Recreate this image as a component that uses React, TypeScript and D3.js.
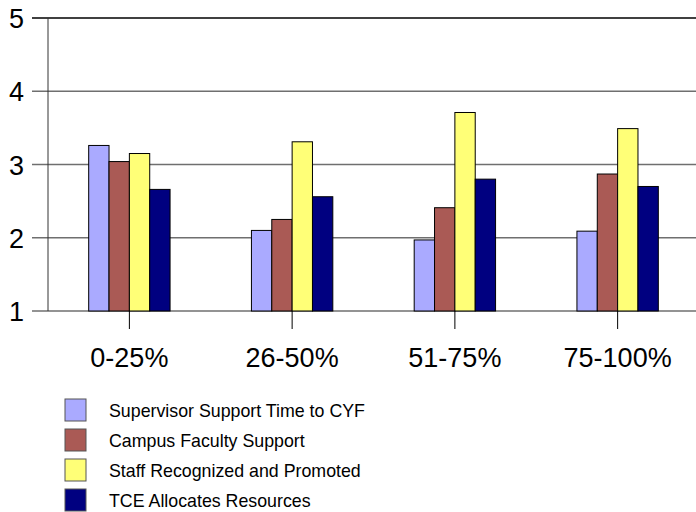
import * as d3 from "d3";

const categories = ["0-25%", "26-50%", "51-75%", "75-100%"];
const seriesNames = [
  "Supervisor Support Time to CYF",
  "Campus Faculty Support",
  "Staff Recognized and Promoted",
  "TCE Allocates Resources",
];
const supervisorSupport = [3.26, 2.1, 1.97, 2.09];
const campusFaculty = [3.04, 2.25, 2.41, 2.87];
const staffRecognized = [3.15, 3.31, 3.71, 3.49];
const tceAllocates = [2.66, 2.56, 2.8, 2.7];
const yTicks = [1, 2, 3, 4, 5];

const seriesValues = [supervisorSupport, campusFaculty, staffRecognized, tceAllocates];
const colors = ["#AAAAFF", "#AA5A55", "#FFFF77", "#000080"];

export default function App() {
  const width = 696;
  const height = 512;
  const left = 48;
  const top = 18;
  const bottom = 311;
  const plotRight = 699;

  const x = d3.scaleBand().domain(categories).range([left, plotRight]).padding(0);
  const x1 = d3
    .scaleBand()
    .domain(seriesNames)
    .range([x.bandwidth() * 0.25, x.bandwidth() * 0.75]);
  const y = d3.scaleLinear().domain([1, 5]).range([bottom, top]);

  const font = "'Liberation Sans', Arial, sans-serif";

  return (
    <svg
      width={width}
      height={height}
      style={{ position: "absolute", left: 0, top: 0, background: "#fff" }}
    >
      {/* grid lines */}
      {yTicks.map((t) => (
        <g key={t}>
          <line
            x1={32}
            x2={width}
            y1={y(t)}
            y2={y(t)}
            stroke={t === 5 ? "#000" : "#6f6f6f"}
            strokeWidth={t === 5 ? 1.5 : 1.3}
          />
          <text
            x={24}
            y={y(t) + 10}
            textAnchor="end"
            fontFamily={font}
            fontSize={27}
          >
            {t}
          </text>
        </g>
      ))}
      <line x1={left} x2={left} y1={top} y2={bottom} stroke="#333" strokeWidth={1} />

      {/* bars */}
      {categories.map((c, ci) => (
        <g key={c} transform={`translate(${x(c)},0)`}>
          {seriesNames.map((s, si) => {
            const v = seriesValues[si][ci];
            return (
              <rect
                key={s}
                x={x1(s)}
                y={y(v)}
                width={x1.bandwidth()}
                height={y(1) - y(v)}
                fill={colors[si]}
                stroke="#000"
                strokeWidth={1}
              />
            );
          })}
        </g>
      ))}

      {/* category ticks and labels */}
      {categories.map((c) => {
        const cx = (x(c) || 0) + x.bandwidth() / 2;
        return (
          <g key={c}>
            <line x1={cx} x2={cx} y1={bottom} y2={329} stroke="#000" strokeWidth={1} />
            <text
              x={cx}
              y={367}
              textAnchor="middle"
              fontFamily={font}
              fontSize={27}
            >
              {c}
            </text>
          </g>
        );
      })}

      {/* legend */}
      {seriesNames.map((s, i) => (
        <g key={s} transform={`translate(65,${399 + i * 30})`}>
          <rect width={21} height={22} fill={colors[i]} stroke="#555" strokeWidth={1} />
          <text x={44} y={17.5} fontFamily={font} fontSize={17.8}>
            {s}
          </text>
        </g>
      ))}
    </svg>
  );
}
